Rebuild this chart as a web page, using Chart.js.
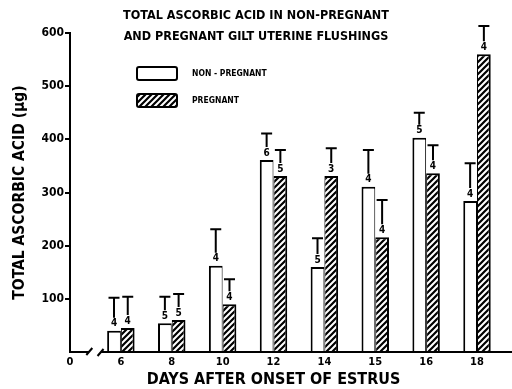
<!DOCTYPE html>
<html>
<head>
<meta charset="utf-8">
<title>Total ascorbic acid in uterine flushings</title>
<script src="https://cdn.jsdelivr.net/npm/chart.js@4.4.0/dist/chart.umd.min.js"></script>
<style>
	html, body { margin: 0; padding: 0; background: #ffffff; }
	.chart-box { position: relative; width: 512px; height: 389px; }
</style>
</head>
<body>
<div class="chart-box"><canvas id="chartAscorbic"></canvas></div>
<script>
const titleLines = ['TOTAL ASCORBIC ACID IN NON-PREGNANT', 'AND PREGNANT GILT UTERINE FLUSHINGS'];
const days = ['6', '8', '10', '12', '14', '15', '16', '18'];
const nonPregnantMean = [40, 54, 162, 361, 160, 311, 403, 284];
const nonPregnantSE = [62, 50, 69, 50, 54, 69, 47, 71];
const nonPregnantN = [4, 5, 4, 6, 5, 4, 5, 4];
const pregnantMean = [45, 60, 90, 331, 331, 216, 336, 560];
const pregnantSE = [59, 49, 47, 49, 52, 70, 53, 53];
const pregnantN = [4, 5, 4, 5, 3, 4, 4, 4];
const yMin = 0;
const yMax = 600;
const yStep = 100;

;(function () {
	'use strict';
	const FONT = "'DejaVu Sans Condensed', 'DejaVu Sans', sans-serif";
	const INK = '#000000';

	Chart.defaults.font.family = FONT;
	Chart.defaults.font.weight = 'bold';
	Chart.defaults.color = INK;

	// diagonal hatch for the pregnant bars
	const makeHatch = function () {
		const tile = document.createElement('canvas');
		tile.width = 6;
		tile.height = 6;
		const c = tile.getContext('2d');
		c.fillStyle = '#ffffff';
		c.fillRect(0, 0, 6, 6);
		c.strokeStyle = INK;
		c.lineWidth = 2.2;
		c.beginPath();
		c.moveTo(-1, 7); c.lineTo(7, -1);
		c.moveTo(-1, 1); c.lineTo(1, -1);
		c.moveTo(5, 7); c.lineTo(7, 5);
		c.stroke();
		return c.createPattern(tile, 'repeat');
	};

	const labels = ['0'].concat(days);

	const titlePlugin = {
		id: 'titleLines',
		afterDraw(chart) {
			const ctx = chart.ctx;
			ctx.save();
			ctx.fillStyle = INK;
			ctx.font = 'bold 12.5px ' + FONT;
			ctx.textAlign = 'center';
			ctx.textBaseline = 'middle';
			ctx.fillText(titleLines[0], chart.width / 2, 16);
			ctx.fillText(titleLines[1], chart.width / 2, 37);
			ctx.restore();
		}
	};

	// x axis with the break after 0
	const axisBreakPlugin = {
		id: 'axisBreak',
		afterDraw(chart) {
			const ctx = chart.ctx;
			const xs = chart.scales.x;
			const y = chart.chartArea.bottom;
			const x0 = xs.getPixelForValue(0);
			const x1 = xs.getPixelForValue(1);
			const gapStart = x0 + (x1 - x0) * 0.36;
			const gapEnd = x0 + (x1 - x0) * 0.62;
			ctx.save();
			ctx.strokeStyle = INK;
			ctx.lineWidth = 2;
			ctx.beginPath();
			ctx.moveTo(x0 - 1, y);
			ctx.lineTo(gapStart, y);
			ctx.moveTo(gapStart - 2, y + 3);
			ctx.lineTo(gapStart + 4, y - 4);
			ctx.moveTo(gapEnd - 4, y + 4);
			ctx.lineTo(gapEnd + 2, y - 3);
			ctx.moveTo(gapEnd, y);
			ctx.lineTo(chart.width, y);
			ctx.stroke();
			ctx.restore();
		}
	};

	const errorBarPlugin = {
		id: 'errorBars',
		afterDatasetsDraw(chart) {
			const ctx = chart.ctx;
			const ys = chart.scales.y;
			ctx.save();
			ctx.strokeStyle = INK;
			ctx.fillStyle = INK;
			ctx.lineWidth = 2;
			ctx.font = 'bold 10px ' + FONT;
			ctx.textAlign = 'center';
			ctx.textBaseline = 'middle';
			chart.data.datasets.forEach((ds, i) => {
				const meta = chart.getDatasetMeta(i);
				meta.data.forEach((bar, j) => {
					const mean = ds.data[j];
					if (mean === null) return;
					const top = ys.getPixelForValue(mean + ds.errors[j]);
					ctx.fillText(String(ds.counts[j]), bar.x, bar.y - 7);
					ctx.beginPath();
					ctx.moveTo(bar.x, bar.y - 13);
					ctx.lineTo(bar.x, top);
					ctx.moveTo(bar.x - 5.5, top);
					ctx.lineTo(bar.x + 5.5, top);
					ctx.stroke();
				});
			});
			ctx.restore();
		}
	};

	const legendPlugin = {
		id: 'boxLegend',
		afterDraw(chart) {
			const ctx = chart.ctx;
			const area = chart.chartArea;
			ctx.save();
			ctx.font = 'bold 8.5px ' + FONT;
			ctx.textAlign = 'left';
			ctx.textBaseline = 'middle';
			chart.data.datasets.forEach((ds, i) => {
				const left = area.left + 67;
				const top = area.top + 34 + i * 27;
				ctx.fillStyle = ds.backgroundColor;
				ctx.strokeStyle = INK;
				ctx.lineWidth = 2;
				ctx.beginPath();
				ctx.roundRect(left, top, 40, 13, 2);
				ctx.fill();
				ctx.stroke();
				ctx.fillStyle = INK;
				ctx.fillText(ds.label, left + 55, top + 6.5);
			});
			ctx.restore();
		}
	};

	const handleInitialChart = function () {
		const canvas = document.getElementById('chartAscorbic');
		new Chart(canvas.getContext('2d'), {
			type: 'bar',
			data: {
				labels: labels,
				datasets: [
					{
						label: 'NON - PREGNANT',
						data: [null].concat(nonPregnantMean),
						errors: [null].concat(nonPregnantSE),
						counts: [null].concat(nonPregnantN),
						backgroundColor: '#ffffff',
						borderColor: INK,
						borderWidth: { left: 2, top: 2, right: 1, bottom: 0 },
						borderSkipped: false,
						categoryPercentage: 0.54,
						barPercentage: 1,
						clip: false
					},
					{
						label: 'PREGNANT',
						data: [null].concat(pregnantMean),
						errors: [null].concat(pregnantSE),
						counts: [null].concat(pregnantN),
						backgroundColor: makeHatch(),
						borderColor: INK,
						borderWidth: { left: 1, top: 2, right: 2, bottom: 0 },
						borderSkipped: false,
						categoryPercentage: 0.54,
						barPercentage: 1,
						clip: false
					}
				]
			},
			options: {
				responsive: true,
				maintainAspectRatio: false,
				animation: false,
				events: [],
				layout: {
					padding: { top: 33, right: 35, bottom: 0, left: 0 }
				},
				plugins: {
					legend: { display: false },
					title: { display: false },
					tooltip: { enabled: false }
				},
				scales: {
					x: {
						type: 'category',
						offset: false,
						grid: { display: false, drawTicks: false },
						border: { display: false },
						ticks: {
							color: INK,
							padding: 4,
							font: { size: 11, weight: 'bold' },
							maxRotation: 0,
							autoSkip: false
						},
						title: {
							display: true,
							text: 'DAYS AFTER ONSET OF ESTRUS',
							color: INK,
							font: { size: 16, weight: 'bold' },
							padding: { top: 0, bottom: 0 }
						},
						afterFit(scale) {
							scale.height = 37;
						}
					},
					y: {
						min: yMin,
						max: yMax,
						grid: {
							drawOnChartArea: false,
							drawTicks: true,
							tickLength: 5,
							lineWidth: 2,
							color: (c) => (c.tick && c.tick.value === 0 ? 'rgba(0,0,0,0)' : INK)
						},
						border: { display: true, color: INK, width: 2 },
						ticks: {
							stepSize: yStep,
							color: INK,
							padding: 1,
							font: { size: 12, weight: 'bold' },
							callback: (v) => (v === 0 ? '' : v)
						},
						title: {
							display: true,
							text: 'TOTAL ASCORBIC ACID (µg)',
							color: INK,
							font: { size: 15.5, weight: 'bold' },
							padding: { top: 11, bottom: 0 }
						},
						afterFit(scale) {
							scale.width = 70;
						}
					}
				}
			},
			plugins: [titlePlugin, axisBreakPlugin, errorBarPlugin, legendPlugin]
		});
	};

	handleInitialChart();
})();
</script>
</body>
</html>
